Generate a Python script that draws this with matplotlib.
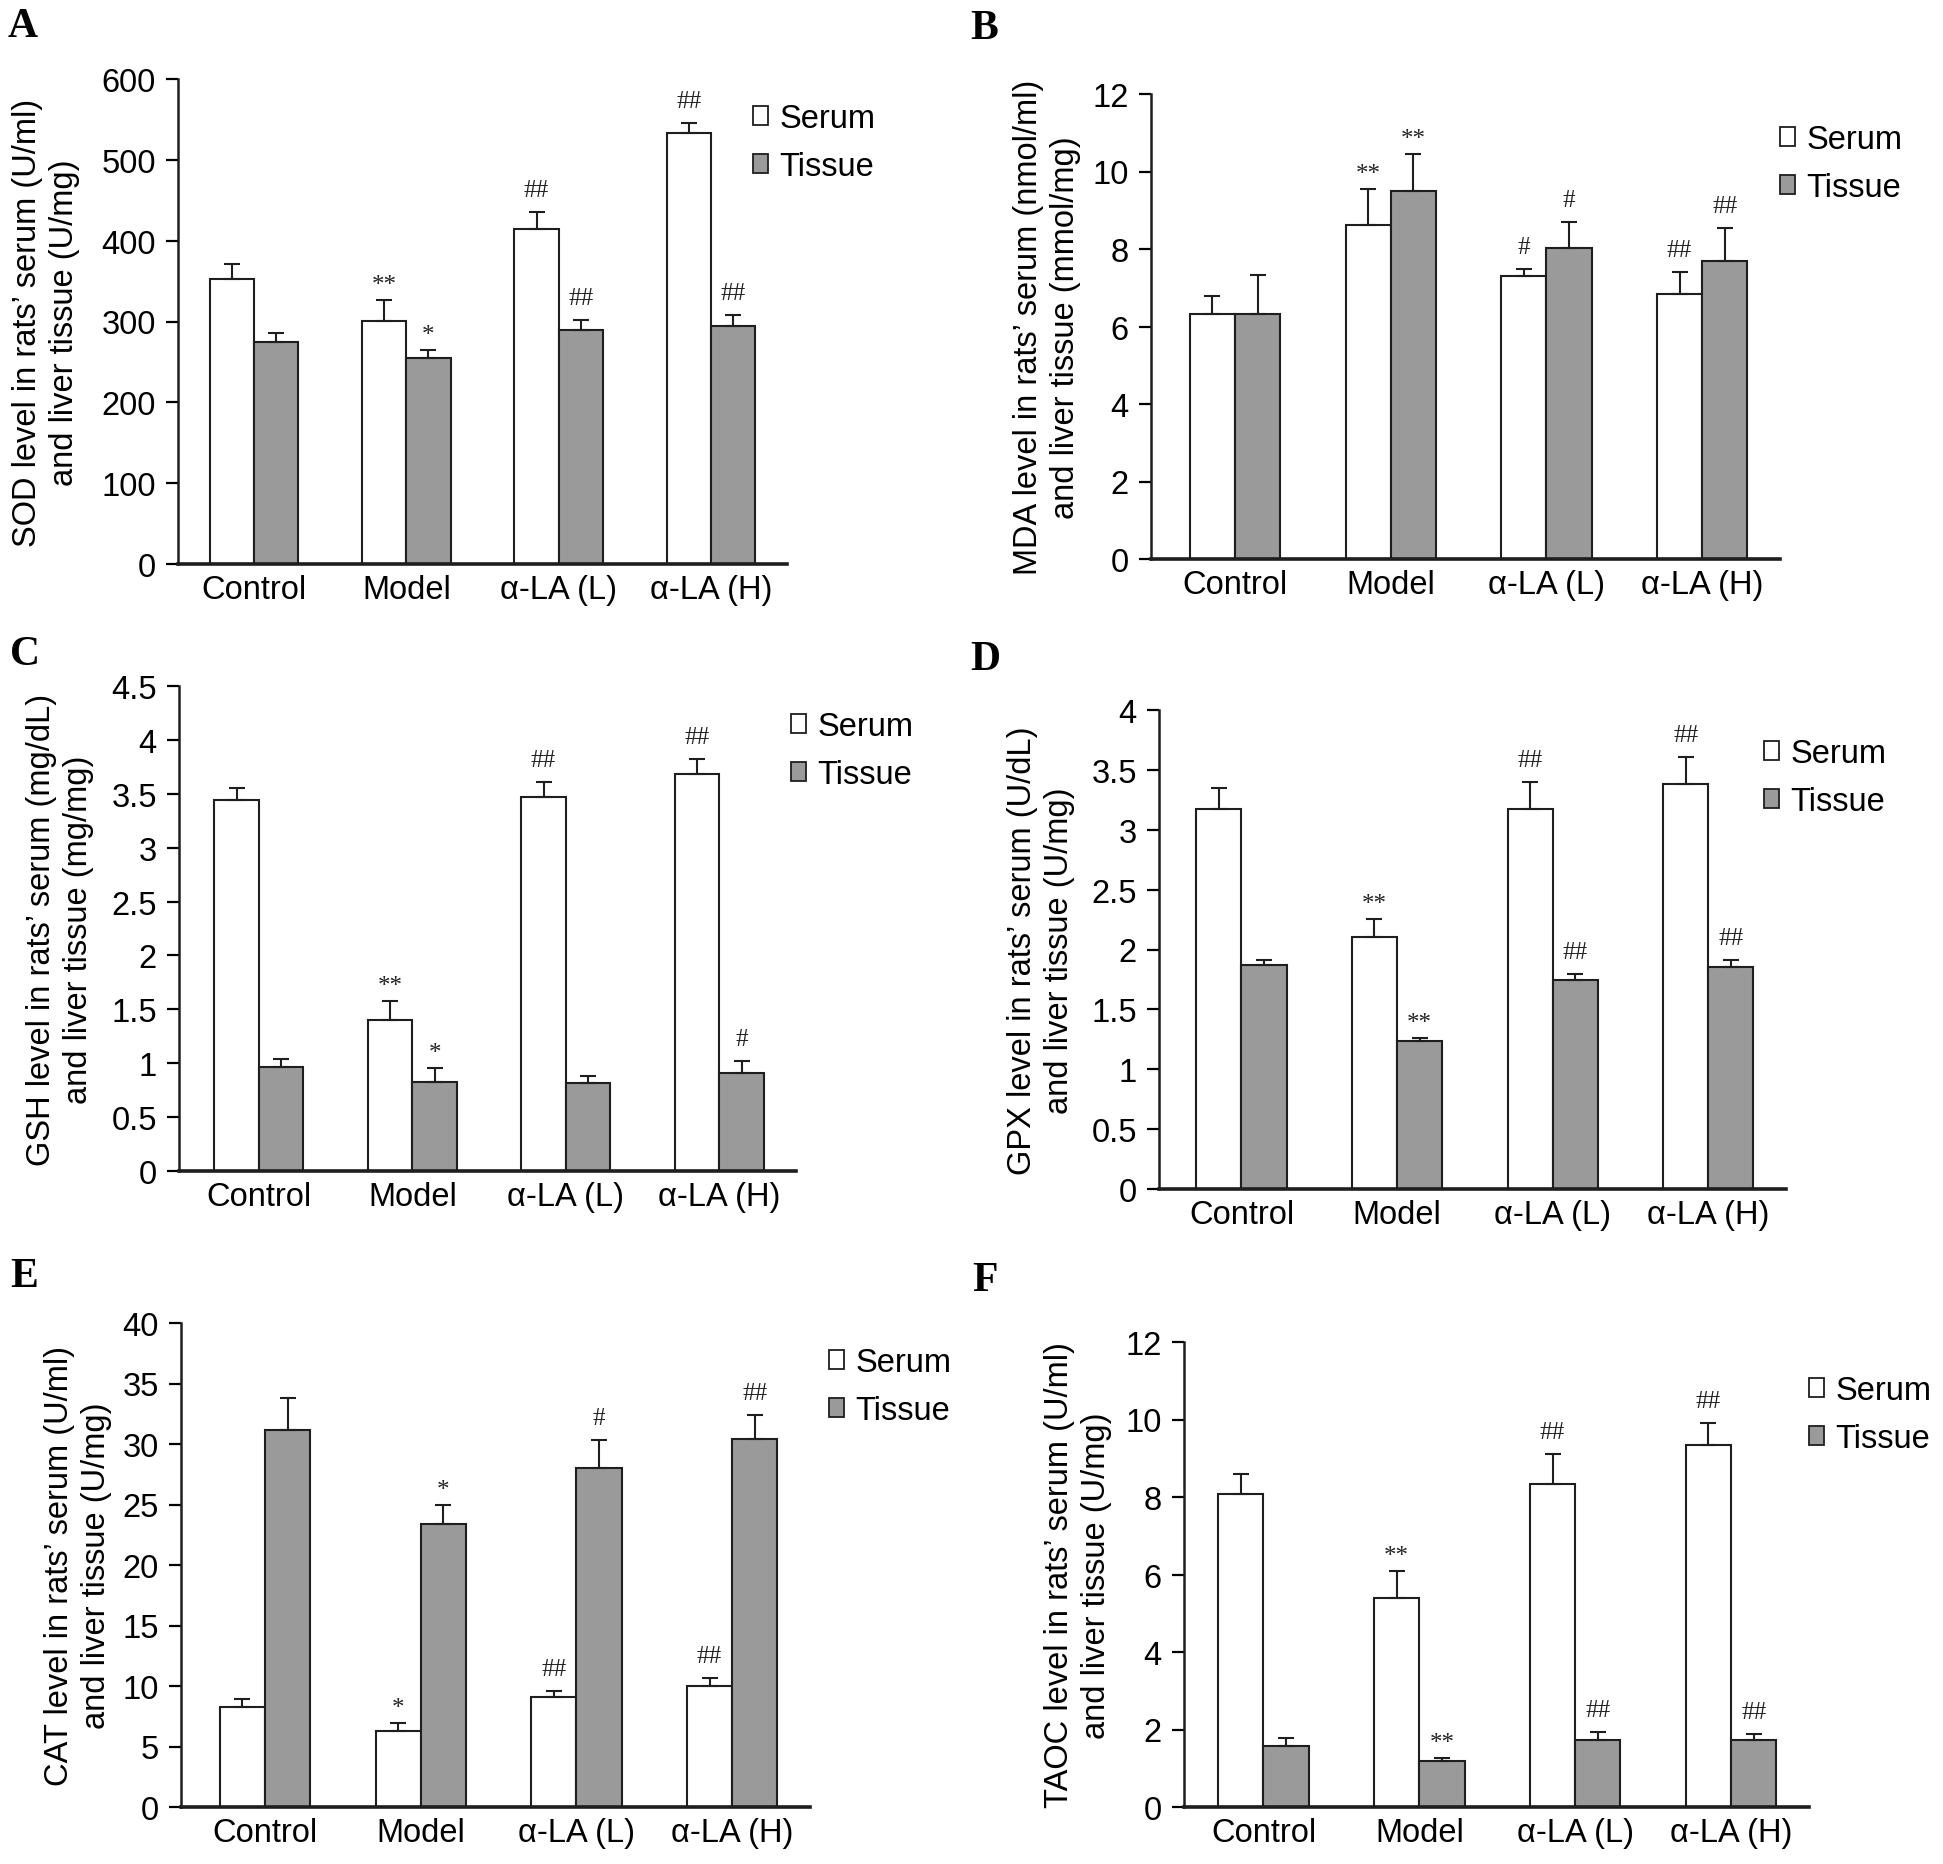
import matplotlib
matplotlib.use("Agg")
import matplotlib.pyplot as plt
from matplotlib.patches import Patch
from matplotlib.ticker import FuncFormatter
import numpy as np

plt.rcParams['font.family'] = ['Liberation Sans', 'DejaVu Sans']

groups = ["Control", "Model", "α-LA (L)", "α-LA (H)"]

sod_serum = [353, 301, 415, 533]
sod_serum_err = [18, 25, 20, 13]
sod_tissue = [275, 255, 290, 295]
sod_tissue_err = [11, 10, 12, 13]
sod_serum_sig = ["", "**", "##", "##"]
sod_tissue_sig = ["", "*", "##", "##"]

mda_serum = [6.32, 8.63, 7.31, 6.85]
mda_serum_err = [0.46, 0.92, 0.18, 0.56]
mda_tissue = [6.32, 9.50, 8.03, 7.69]
mda_tissue_err = [1.02, 0.95, 0.66, 0.84]
mda_serum_sig = ["", "**", "#", "##"]
mda_tissue_sig = ["", "**", "#", "##"]

gsh_serum = [3.44, 1.40, 3.47, 3.685]
gsh_serum_err = [0.11, 0.18, 0.14, 0.135]
gsh_tissue = [0.964, 0.825, 0.814, 0.906]
gsh_tissue_err = [0.076, 0.128, 0.066, 0.11]
gsh_serum_sig = ["", "**", "##", "##"]
gsh_tissue_sig = ["", "*", "", "#"]

gpx_serum = [3.17, 2.105, 3.17, 3.38]
gpx_serum_err = [0.18, 0.15, 0.23, 0.23]
gpx_tissue = [1.868, 1.24, 1.743, 1.855]
gpx_tissue_err = [0.046, 0.02, 0.052, 0.059]
gpx_serum_sig = ["", "**", "##", "##"]
gpx_tissue_sig = ["", "**", "##", "##"]

cat_serum = [8.23, 6.32, 9.05, 10.04]
cat_serum_err = [0.66, 0.66, 0.56, 0.59]
cat_tissue = [31.18, 23.37, 27.98, 30.45]
cat_tissue_err = [2.66, 1.58, 2.37, 1.98]
cat_serum_sig = ["", "*", "##", "##"]
cat_tissue_sig = ["", "*", "#", "##"]

taoc_serum = [8.07, 5.40, 8.34, 9.34]
taoc_serum_err = [0.52, 0.70, 0.76, 0.56]
taoc_tissue = [1.57, 1.19, 1.74, 1.74]
taoc_tissue_err = [0.20, 0.07, 0.20, 0.14]
taoc_serum_sig = ["", "**", "##", "##"]
taoc_tissue_sig = ["", "**", "##", "##"]

W, H = 1943, 1865
fig = plt.figure(figsize=(W / 100, H / 100), dpi=100)

FS = 23.5
TISSUE = "#9a9a9a"
EDGE = "#1e1e1e"

panels = [
    dict(letter="A", let_xy=(8, 8), box=(178, 787, 80, 565), ylim=600, step=100,
         ylabel="SOD level in rats’ serum (U/ml)\nand liver tissue (U/mg)", ylab_x=46,
         leg=(753, 104), xl=-0.5,
         s=sod_serum, se=sod_serum_err, t=sod_tissue, te=sod_tissue_err,
         ss=sod_serum_sig, ts=sod_tissue_sig),
    dict(letter="B", let_xy=(970, 10), box=(1151, 1780, 95, 560), ylim=12, step=2,
         ylabel="MDA level in rats’ serum (nmol/ml)\nand liver tissue (mmol/mg)", ylab_x=1047,
         leg=(1780, 125), xl=-0.54,
         s=mda_serum, se=mda_serum_err, t=mda_tissue, te=mda_tissue_err,
         ss=mda_serum_sig, ts=mda_tissue_sig),
    dict(letter="C", let_xy=(10, 636), box=(179, 796, 687, 1172), ylim=4.5, step=0.5,
         ylabel="GSH level in rats’ serum (mg/dL)\nand liver tissue (mg/mg)", ylab_x=60,
         leg=(791, 712), xl=-0.52,
         s=gsh_serum, se=gsh_serum_err, t=gsh_tissue, te=gsh_tissue_err,
         ss=gsh_serum_sig, ts=gsh_tissue_sig),
    dict(letter="D", let_xy=(970, 641), box=(1159, 1786, 711, 1190), ylim=4, step=0.5,
         ylabel="GPX level in rats’ serum (U/dL)\nand liver tissue (U/mg)", ylab_x=1041,
         leg=(1764, 739), xl=-0.53,
         s=gpx_serum, se=gpx_serum_err, t=gpx_tissue, te=gpx_tissue_err,
         ss=gpx_serum_sig, ts=gpx_tissue_sig),
    dict(letter="E", let_xy=(10, 1258), box=(181, 810, 1324, 1808), ylim=40, step=5,
         ylabel="CAT level in rats’ serum (U/ml)\nand liver tissue (U/mg)", ylab_x=78,
         leg=(829, 1348), xl=-0.54,
         s=cat_serum, se=cat_serum_err, t=cat_tissue, te=cat_tissue_err,
         ss=cat_serum_sig, ts=cat_tissue_sig),
    dict(letter="F", let_xy=(972, 1262), box=(1184, 1809, 1343, 1808), ylim=12, step=2,
         ylabel="TAOC level in rats’ serum (U/ml)\nand liver tissue (U/mg)", ylab_x=1078,
         leg=(1809, 1376), xl=-0.51,
         s=taoc_serum, se=taoc_serum_err, t=taoc_tissue, te=taoc_tissue_err,
         ss=taoc_serum_sig, ts=taoc_tissue_sig),
]

bw = 0.29
x = np.arange(len(groups))


def annotate(ax, xs, tops, labels):
    for xi, yi, lab in zip(xs, tops, labels):
        if not lab:
            continue
        off = 16 if "#" in lab else 9
        ax.annotate(lab, (xi, yi), xytext=(0, off * 0.72), textcoords="offset points",
                    ha="center", va="baseline", fontsize=18,
                    family=["Liberation Serif", "DejaVu Serif"], color="#222222")


for p in panels:
    l, r, t, b = p["box"]
    ax = fig.add_axes([l / W, 1 - b / H, (r - l) / W, (b - t) / H])
    s = np.array(p["s"]); se = np.array(p["se"])
    tt = np.array(p["t"]); te = np.array(p["te"])
    ax.bar(x - bw / 2, s, bw, color="white", edgecolor=EDGE, linewidth=1.5, zorder=2)
    ax.bar(x + bw / 2, tt, bw, color=TISSUE, edgecolor=EDGE, linewidth=1.5, zorder=2)
    ax.errorbar(x - bw / 2, s, yerr=[np.zeros_like(se), se], fmt="none", ecolor=EDGE,
                elinewidth=1.5, capsize=6, capthick=1.5, zorder=3)
    ax.errorbar(x + bw / 2, tt, yerr=[np.zeros_like(te), te], fmt="none", ecolor=EDGE,
                elinewidth=1.5, capsize=6, capthick=1.5, zorder=3)
    annotate(ax, x - bw / 2, s + se, p["ss"])
    annotate(ax, x + bw / 2, tt + te, p["ts"])

    ax.set_xlim(p["xl"], 3.5)
    ax.set_ylim(0, p["ylim"])
    ax.set_yticks(np.arange(0, p["ylim"] + p["step"] / 2, p["step"]))
    ax.yaxis.set_major_formatter(FuncFormatter(lambda v, pos: f"{v:g}"))
    ax.set_xticks(x)
    ax.set_xticklabels(groups)
    ax.tick_params(axis="x", length=0, pad=7, labelsize=FS)
    ax.tick_params(axis="y", length=9, width=1.6, pad=7, labelsize=FS, direction="out")
    for sp in ("top", "right"):
        ax.spines[sp].set_visible(False)
    ax.spines["left"].set_linewidth(1.8)
    ax.spines["bottom"].set_linewidth(2.6)
    ax.spines["left"].set_color(EDGE)
    ax.spines["bottom"].set_color(EDGE)

    ax.set_ylabel(p["ylabel"], fontsize=FS, va="center", ha="center",
                  multialignment="center", linespacing=1.22)
    ax.yaxis.set_label_coords((p["ylab_x"] - l) / (r - l), 0.5)

    handles = [Patch(facecolor="white", edgecolor=EDGE, linewidth=1.3, label="Serum"),
               Patch(facecolor=TISSUE, edgecolor=EDGE, linewidth=1.3, label="Tissue")]
    lx, ly = p["leg"]
    ax.legend(handles=handles, loc="upper left", bbox_to_anchor=(lx / W, 1 - ly / H),
              bbox_transform=fig.transFigure, frameon=False, fontsize=FS,
              borderpad=0, borderaxespad=0, handlelength=0.45, handleheight=0.5,
              handletextpad=0.35, labelspacing=0.52)

    lx0, ly0 = p["let_xy"]
    fig.text(lx0 / W, 1 - ly0 / H, p["letter"], fontsize=30, fontweight="bold",
             family=["Liberation Serif", "DejaVu Serif"], ha="left", va="top")

fig.savefig("out.png", dpi=100, facecolor="white")
